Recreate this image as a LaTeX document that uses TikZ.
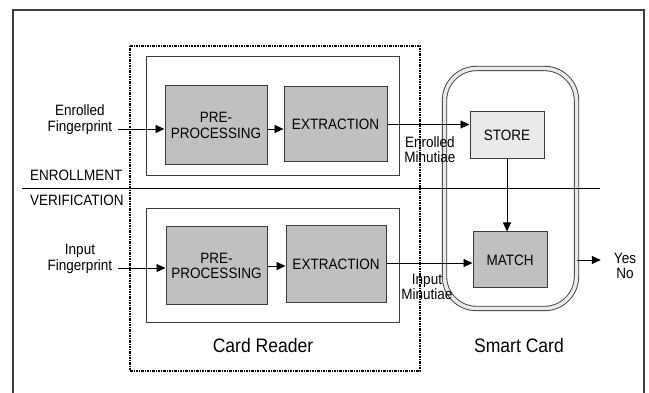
\documentclass[tikz,border=0pt]{standalone}
\usepackage{fontspec}
\setmainfont{Liberation Sans}[FakeStretch=0.9]
\usetikzlibrary{arrows.meta}

\definecolor{boxgray}{RGB}{192,192,192}
\definecolor{storegray}{RGB}{234,234,234}
\definecolor{edgegray}{RGB}{60,60,60}

\begin{document}
\begin{tikzpicture}
	[x=1pt, y=-1pt,
	every node/.style={align=center, inner sep=0pt, font=\fontsize{15}{15.5}\selectfont},
	stagebox/.style={draw=edgegray, fill=boxgray, line width=1pt},
	groupbox/.style={draw=edgegray, line width=1pt},
	flow/.style={draw, line width=0.9pt, -{Triangle[length=9pt, width=8pt]}},
	caption/.style={font=\fontsize{19.5}{21}\selectfont}]
	\useasboundingbox (0,0) rectangle (649,393);
	\draw[edgegray, line width=1.5pt] (13,393) -- (13,10) -- (644,10) -- (644,393);

	% card reader side
	\node[groupbox, minimum width=253pt, minimum height=119pt] (enrollbox) at (272.5,116.5) {};
	\node[groupbox, minimum width=253pt, minimum height=114pt] (verifbox) at (272.5,266) {};
	\node[stagebox, minimum width=102pt, minimum height=79pt] (pre1) at (216,125.5) {PRE-\\PROCESSING};
	\node[stagebox, minimum width=103pt, minimum height=75pt] (ext1) at (335.5,124.5) {EXTRACTION};
	\node[stagebox, minimum width=101pt, minimum height=78pt] (pre2) at (216.5,266) {PRE-\\PROCESSING};
	\node[stagebox, minimum width=100pt, minimum height=77pt] (ext2) at (336,264.5) {EXTRACTION};
	\node[draw, line width=1.1pt, dash pattern=on 2.5pt off 1pt on 1pt off 1pt,
		minimum width=290pt, minimum height=325pt] (reader) at (275,208.5) {};
	\node[caption] (readerlabel) at (263,346) {Card Reader};

	% smart card side
	\node[draw=edgegray, line width=0.9pt, double=storegray, double distance=3.5pt,
		rounded corners=32pt, minimum width=132pt, minimum height=240pt] (card) at (510.5,188.5) {};
	\node[caption] (cardlabel) at (519,346) {Smart Card};
	\node[stagebox, fill=storegray, minimum width=74pt, minimum height=47pt] (store) at (507,135.5) {STORE};
	\node[stagebox, minimum width=74pt, minimum height=56pt] (match) at (510,260) {MATCH};

	% labels
	\node (enrolled) at (80,119.5) {Enrolled\\Fingerprint};
	\node (input) at (80,259) {Input\\Fingerprint};
	\node[anchor=west] (enrollment) at (30,175) {ENROLLMENT};
	\node[anchor=west] (verification) at (30,200) {VERIFICATION};
	\node (enrmin) at (430,149.5) {Enrolled\\Minutiae};
	\node (inmin) at (427,287) {Input\\Minutiae};
	\node (result) at (625,266) {Yes\\No};

	\draw[line width=0.9pt] (22,188) -- (600,188);

	% arrows
	\draw[flow] (enrolled.east |- pre1.west) ++(6pt,-3.5pt) -- ([yshift=-3.5pt]pre1.west);
	\draw[flow] (input.east |- pre2.west) ++(6pt,-2pt) -- ([yshift=-2pt]pre2.west);
	\draw[flow] ([yshift=-3.5pt]pre1.east) -- ([yshift=-3.5pt]pre1.east -| ext1.west);
	\draw[flow] (pre2.east) -- (pre2.east -| ext2.west);
	\draw[flow] (ext1.east) -- (ext1.east -| store.west);
	\draw[flow] ([yshift=1.5pt]ext2.east) -- ([yshift=1.5pt]ext2.east -| match.west);
	\draw[flow] (store.south) -- (store.south |- match.north);
	\draw[flow, shorten >=13pt] (match -| card.east) -- (match -| result.west);
\end{tikzpicture}
\end{document}
